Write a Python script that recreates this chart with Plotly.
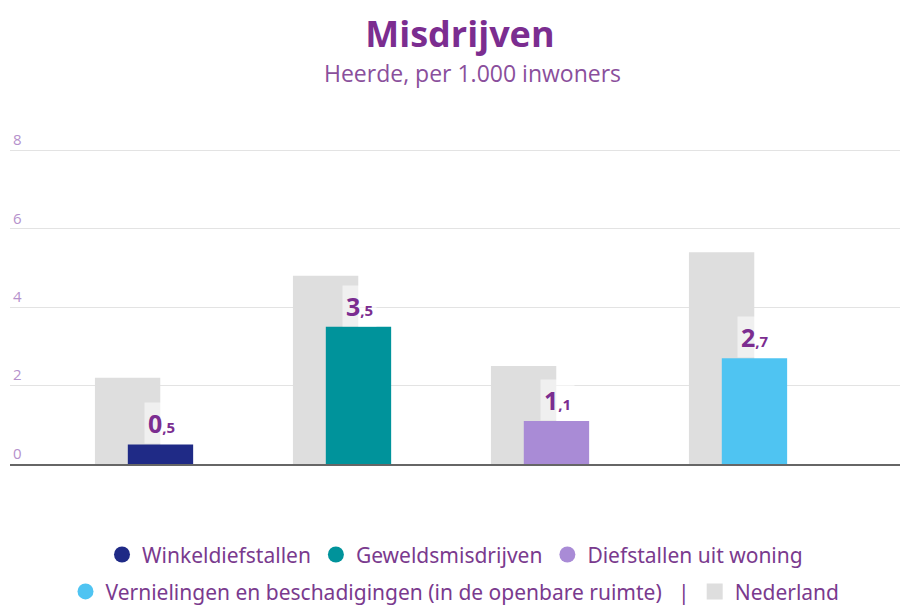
import plotly.graph_objects as go

categories = ["Winkeldiefstallen", "Geweldsmisdrijven", "Diefstallen uit woning",
              "Vernielingen en beschadigingen (in de openbare ruimte)"]
heerde_values = [0.5, 3.5, 1.1, 2.7]
nederland_values = [2.2, 4.8, 2.5, 5.4]
colors = ["#1f2a86", "#00939b", "#a98bd6", "#4fc4f2"]
y_ticks = [0, 2, 4, 6, 8]

purple = "#7b2d90"
label_purple = "#7a3a8e"

fig = go.Figure()

bar_w = 0.33
gap = 0.083
# Nederland bars (behind)
fig.add_trace(go.Bar(
    x=categories, y=nederland_values, name="Nederland",
    marker=dict(color="#dedede", line=dict(width=0)),
    width=bar_w, offset=-gap - bar_w / 2,
    showlegend=False, hoverinfo="skip"))
# Heerde bars
fig.add_trace(go.Bar(
    x=categories, y=heerde_values, name="Heerde",
    marker=dict(color=colors, line=dict(width=0)),
    width=bar_w, offset=gap - bar_w / 2,
    showlegend=False))

# Legend entries (circle markers)
for i, (cat, col) in enumerate(zip(categories, colors)):
    name = cat if i < 3 else cat + "   |"
    fig.add_trace(go.Scatter(
        x=[None], y=[None], mode="markers", name=name,
        marker=dict(symbol="circle", size=22, color=col),
        legend="legend" if i < 3 else "legend2",
        legendrank=i))
fig.add_trace(go.Scatter(
    x=[None], y=[None], mode="markers", name="Nederland",
    marker=dict(symbol="square", size=22, color="#dedede"),
    legend="legend2", legendrank=10))

# data labels
for cat, v in zip(categories, heerde_values):
    whole, dec = f"{v:.1f}".split(".")
    fig.add_annotation(
        x=cat, y=v, xref="x", yref="y", yanchor="bottom", xanchor="center",
        xshift=17, showarrow=False,
        text=f"<b>{whole}<span style='font-size:15px'>,{dec}</span></b>",
        font=dict(family="Open Sans", size=25, color=purple),
        bgcolor="rgba(255,255,255,0.55)", borderpad=3)

# subtitle
fig.add_annotation(
    xref="paper", yref="paper", x=(473 - 10) / 890, y=(464 - 72) / 341.5, yanchor="middle",
    text="Heerde, per 1.000 inwoners", showarrow=False,
    font=dict(family="Open Sans", size=23, color="#8a4f9c"))

leg_font = dict(family="Noto Sans", size=21, color=label_purple)

fig.update_layout(
    width=900, height=609,
    margin=dict(l=10, r=0, t=122.5, b=145, autoexpand=False),
    paper_bgcolor="white", plot_bgcolor="white",
    barmode="overlay",
    title=dict(text="<b>Misdrijven</b>", x=0.511, xanchor="center",
               y=1 - 34 / 609, yanchor="middle",
               font=dict(family="Open Sans", size=36, color=purple)),
    xaxis=dict(showticklabels=False, showgrid=False, zeroline=False,
               range=[-0.677, 3.818], showline=True, linecolor="#666666",
               linewidth=1.5, ticks=""),
    yaxis=dict(range=[0, 8.7], tickvals=y_ticks, ticklabelposition="inside top",
               showgrid=True, gridcolor="#e3e3e3", gridwidth=1, zeroline=False,
               tickfont=dict(family="Open Sans", size=15, color="#b591cc"),
               showline=False),
    legend=dict(orientation="h", x=0.5, xanchor="center", y=(464 - 555) / 341.5,
                yanchor="middle", font=leg_font,
                itemsizing="trace", itemclick=False, tracegroupgap=0),
    legend2=dict(orientation="h", x=0.5, xanchor="center", y=(464 - 592) / 341.5,
                 yanchor="middle", font=leg_font,
                 itemsizing="trace", itemclick=False, tracegroupgap=0),
    hovermode=False,
)

fig.write_html("out.html",
               config={"displayModeBar": False},
               post_script="document.body.style.margin='0px';document.body.style.overflow='hidden';")
